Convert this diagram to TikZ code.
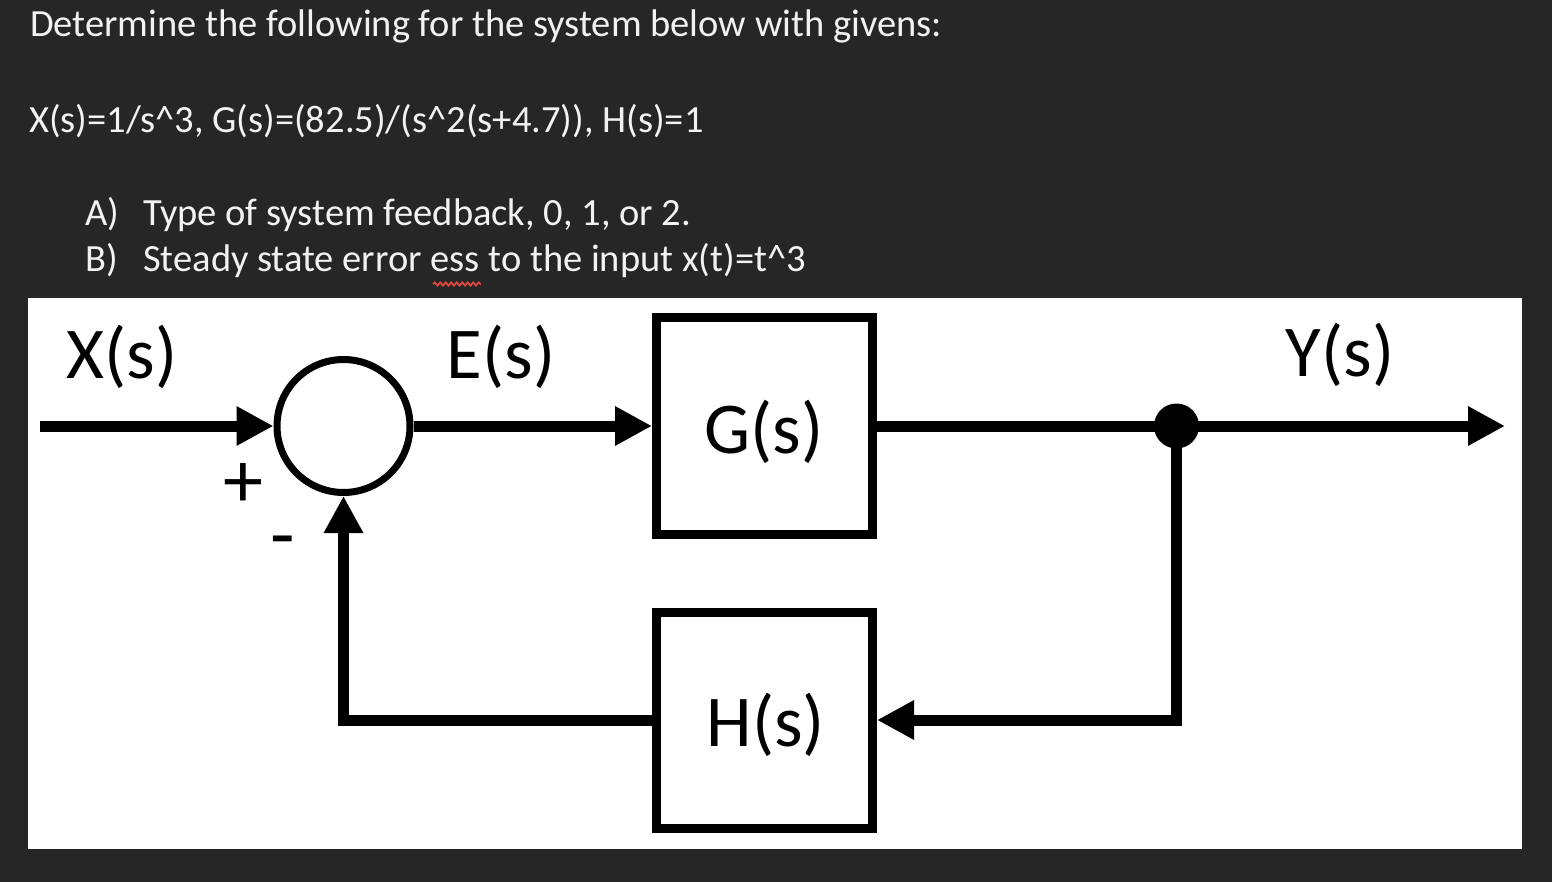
\documentclass[tikz,border=0pt]{standalone}
\usepackage{fontspec}
\setmainfont{Carlito}
\usetikzlibrary{arrows.meta,decorations.pathmorphing}
\definecolor{bg}{HTML}{262626}
\definecolor{fg}{HTML}{F2F2F2}
\definecolor{squig}{HTML}{E0473C}
\begin{document}
\begin{tikzpicture}[x=1pt,y=-1pt,
  hdr/.style={anchor=base west, inner sep=0pt, text=fg, font=\fontsize{38.5}{46}\selectfont},
  lbl/.style={anchor=base, inner sep=0pt, text=black, font=\fontsize{73}{88}\selectfont},
  pm/.style={anchor=center, inner sep=0pt, text=black, font=\fontsize{80}{96}\selectfont},
  sig/.style={line width=11pt, -{Triangle[length=37pt,width=37pt]}},
  wire/.style={line width=11pt},
  blk/.style={draw, line width=9pt, minimum width=216pt, minimum height=216pt, inner sep=0pt},
  sumnode/.style={draw, circle, line width=7pt, minimum size=133pt, inner sep=0pt},
  dotnode/.style={circle, fill=black, minimum size=45pt, inner sep=0pt},
]
\fill[bg] (0,0) rectangle (1552,882);
\useasboundingbox (0,0) rectangle (1552,882);
% header text
\node[hdr] (t1) at (30,37) {Determine the following for the system below with givens:};
\node[hdr] (t2) at (29,133) {X(s)=1/s\textasciicircum{}3, G(s)=(82.5)/(s\textasciicircum{}2(s+4.7)), H(s)=1};
\node[hdr] (qa) at (85,226) {A)};
\node[hdr] (qat) at (143,226) {Type of system feedback, 0, 1, or 2.};
\node[hdr] (qb) at (85,272) {B)};
\node[hdr] (qbt) at (143,272) {Steady state error ess to the input x(t)=t\textasciicircum{}3};
\draw[squig, line width=1.8pt, decorate, decoration={snake, segment length=5.5pt, amplitude=1.6pt}] (433,284) -- (481,284);
% panel
\fill[white] (28,298) rectangle (1522,849);
% blocks
\node[sumnode] (sum) at (343.5,426) {};
\node[blk] (G) at (764.5,426) {};
\node[blk] (H) at (764.5,720) {};
\node[dotnode] (dot) at (1176.5,426) {};
\coordinate (in) at (40,426);
\coordinate (out) at (1505,426);
% labels
\node[lbl] (lx) at (122,378) {X(s)};
\node[lbl] (le) at (501,378) {E(s)};
\node[lbl] (ly) at (1340,376) {Y(s)};
\node[lbl] (lg) at (764,453) {G(s)};
\node[lbl] (lh) at (766,746) {H(s)};
\node[pm] (plus) at (243,486) {+};
\node[pm] (minus) at (283,549) {-};
% connectors
\draw[sig] (in) -- (sum.west);
\draw[sig] (sum.east) -- (G.west);
\draw[wire] (G.east) -- (dot.center);
\draw[sig] (dot.center) -- (out);
\draw[sig] (dot.center) |- (H.east);
\draw[sig] (H.west) -| (sum.south);
\end{tikzpicture}
\end{document}
